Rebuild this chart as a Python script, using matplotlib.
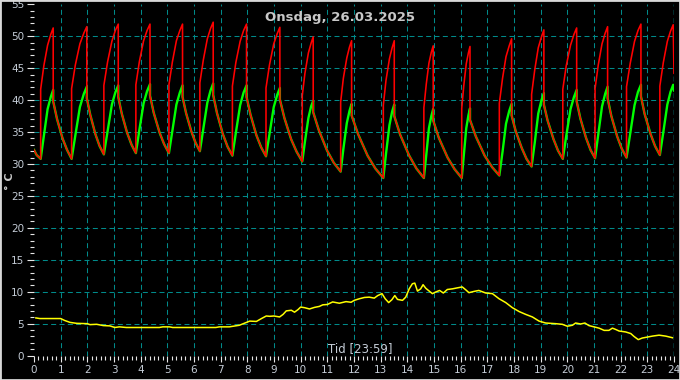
import matplotlib
matplotlib.use("Agg")
import matplotlib.pyplot as plt
from matplotlib.ticker import MultipleLocator, FixedLocator
from matplotlib.patches import Rectangle

# ---------------- data ----------------
start_t = [0.00, 0.10]
start_v = [32.2, 31.4]

trough_t = [0.25, 1.41, 2.62, 3.82, 5.06, 6.22, 7.44, 8.70, 10.06, 11.50,
            13.10, 14.62, 16.04, 17.45, 18.66, 19.83, 21.04, 22.22, 23.47]
trough_v = [30.8, 30.8, 31.5, 31.7, 31.7, 32.0, 31.3, 31.2, 30.4, 28.8,
            27.8, 27.8, 27.8, 28.2, 29.6, 30.8, 30.9, 31.0, 31.4]
peak_t = [0.72, 1.98, 3.16, 4.35, 5.57, 6.72, 7.97, 9.22, 10.47, 11.91,
          13.51, 14.97, 16.35, 17.91, 19.12, 20.35, 21.51, 22.76, 23.97]
red_peak = [51.3, 51.5, 51.9, 51.9, 51.9, 52.2, 51.9, 51.4, 49.9, 49.3,
            49.3, 48.5, 48.4, 49.6, 51.0, 51.3, 51.5, 51.9, 51.8]
green_peak = [41.6, 42.1, 42.3, 42.5, 42.3, 42.6, 42.3, 41.9, 39.9, 39.4,
              39.3, 38.6, 38.7, 39.4, 41.1, 41.6, 42.1, 42.4, 42.4]
red_jump = [41.7, 41.8, 42.3, 42.4, 42.4, 42.7, 42.2, 41.9, 40.7, 39.7,
            39.2, 38.8, 38.7, 39.5, 40.9, 41.7, 41.8, 42.1, 42.2]

rise_t = [
    (0.37, 0.51, 0.63), (1.55, 1.72, 1.87), (2.76, 2.92, 3.05),
    (3.95, 4.11, 4.24), (5.19, 5.34, 5.47), (6.35, 6.50, 6.62),
    (7.57, 7.73, 7.86), (8.83, 8.99, 9.12), (10.16, 10.29, 10.39),
    (11.60, 11.73, 11.83), (13.20, 13.33, 13.43), (14.71, 14.81, 14.90),
    (16.12, 16.21, 16.29), (17.57, 17.70, 17.82), (18.78, 18.91, 19.03),
    (19.96, 20.12, 20.25), (21.16, 21.30, 21.42), (22.36, 22.52, 22.65),
    (23.60, 23.75, 23.87),
]
red_rise = [
    (45.4, 48.6, 50.3), (45.5, 48.8, 50.5), (46.0, 49.2, 50.9),
    (46.0, 49.3, 50.9), (46.0, 49.3, 50.9), (46.3, 49.6, 51.2),
    (45.9, 49.2, 50.9), (45.5, 48.8, 50.4), (44.2, 47.4, 48.9),
    (43.4, 46.6, 48.3), (43.1, 46.5, 48.2), (42.5, 45.8, 47.5),
    (42.4, 45.7, 47.4), (43.4, 46.8, 48.5), (44.8, 48.2, 49.9),
    (45.4, 48.6, 50.3), (45.5, 48.8, 50.5), (45.8, 49.2, 50.9),
    (45.9, 49.2, 50.8),
]
green_rise = [
    (34.4, 38.6, 40.5), (34.5, 38.9, 41.0), (35.1, 39.3, 41.2),
    (35.3, 39.5, 41.4), (35.2, 39.3, 41.2), (35.5, 39.6, 41.5),
    (34.9, 39.2, 41.2), (34.7, 38.9, 40.8), (33.5, 37.2, 39.0),
    (32.3, 36.4, 38.3), (31.6, 36.1, 38.2), (31.4, 35.6, 37.5),
    (31.4, 35.6, 37.6), (31.9, 36.3, 38.3), (33.4, 37.9, 40.0),
    (34.4, 38.6, 40.5), (34.6, 39.0, 41.0), (34.8, 39.2, 41.3),
    (35.0, 39.3, 41.3),
]
drop_v = [39.8, 40.3, 40.5, 40.7, 40.5, 40.8, 40.5, 40.1, 38.1, 37.6,
          37.5, 36.8, 36.9, 37.6, 39.3, 39.8, 40.3, 40.6]
fall_t = [
    (0.86, 1.07, 1.24), (2.11, 2.30, 2.46), (3.29, 3.49, 3.66),
    (4.49, 4.71, 4.88), (5.70, 5.90, 6.06), (6.86, 7.08, 7.26),
    (8.12, 8.34, 8.52), (9.39, 9.64, 9.85), (10.68, 10.99, 11.24),
    (12.15, 12.51, 12.80), (13.73, 14.07, 14.34), (15.18, 15.51, 15.77),
    (16.57, 16.90, 17.18), (18.06, 18.29, 18.47), (19.26, 19.48, 19.65),
    (20.49, 20.70, 20.87), (21.65, 21.87, 22.04), (22.90, 23.12, 23.29),
]
fall_v = [
    (37.1, 34.0, 32.2), (37.7, 34.7, 32.8), (37.9, 34.9, 33.0),
    (38.0, 34.9, 33.1), (38.0, 35.1, 33.3), (38.0, 34.7, 32.7),
    (37.7, 34.5, 32.6), (37.2, 33.9, 31.9), (35.3, 32.1, 30.2),
    (34.7, 31.3, 29.3), (34.6, 31.3, 29.3), (34.1, 31.0, 29.2),
    (34.3, 31.3, 29.5), (35.2, 32.5, 30.8), (36.8, 33.9, 32.1),
    (37.1, 34.1, 32.2), (37.5, 34.3, 32.4), (37.8, 34.7, 32.8),
]
end_t = 24.0
red_end = 44.2
green_end = 41.5

out_t = [0.07, 0.22, 1.0, 1.15, 1.35, 1.6, 2.0, 2.1, 2.35, 2.6, 2.85, 3.03,
         3.2, 3.46, 4.0, 4.7, 4.83, 5.08, 5.2, 6.0, 6.82, 6.95, 7.32, 7.7,
         8.0, 8.09, 8.34, 8.53, 8.71, 8.84, 9.0, 9.21, 9.34, 9.46, 9.65,
         9.77, 9.9, 10.0, 10.15, 10.33, 10.52, 10.7, 10.83, 11.0, 11.2,
         11.45, 11.7, 11.89, 12.01, 12.2, 12.39, 12.57, 12.76, 12.89, 13.05,
         13.17, 13.3, 13.42, 13.53, 13.63, 13.82, 13.94, 14.07, 14.19, 14.28,
         14.38, 14.5, 14.59, 14.69, 14.82, 14.94, 15.06, 15.21, 15.35, 15.5,
         15.69, 15.87, 16.06, 16.19, 16.31, 16.5, 16.68, 16.94, 17.19, 17.44,
         17.69, 17.94, 18.19, 18.44, 18.69, 18.94, 19.19, 19.56, 19.81, 20.0,
         20.19, 20.31, 20.5, 20.66, 20.81, 21.0, 21.19, 21.38, 21.56, 21.69,
         21.81, 21.94, 22.19, 22.38, 22.5, 22.66, 22.81, 23.0, 23.19, 23.44,
         23.69, 23.94]
out_v = [5.9, 5.8, 5.8, 5.5, 5.2, 5.05, 5.0, 4.85, 4.9, 4.7, 4.65, 4.4,
         4.5, 4.4, 4.4, 4.4, 4.5, 4.5, 4.4, 4.4, 4.4, 4.5, 4.5, 4.75,
         5.25, 5.4, 5.35, 5.8, 6.2, 6.15, 6.2, 6.05, 6.45, 7.0, 7.1,
         6.8, 7.2, 7.6, 7.5, 7.3, 7.55, 7.7, 7.95, 8.0, 8.4,
         8.2, 8.45, 8.35, 8.65, 8.9, 9.1, 9.15, 9.0, 9.4, 9.7,
         8.9, 8.3, 8.75, 9.4, 8.8, 8.65, 9.15, 10.45, 11.25, 11.35,
         10.1, 10.45, 11.1, 10.55, 10.1, 9.7, 9.95, 10.2, 9.8, 10.35,
         10.45, 10.6, 10.75, 10.3, 9.85, 10.05, 10.2, 9.8, 9.7, 8.9,
         8.3, 7.5, 6.9, 6.45, 6.05, 5.4, 5.1, 5.0, 4.9, 4.6,
         4.75, 5.1, 4.95, 5.1, 4.7, 4.5, 4.3, 3.95, 3.95, 4.3,
         4.1, 3.85, 3.7, 3.45, 3.0, 2.5, 2.75, 2.9, 3.05, 3.2,
         3.05, 2.8]

title_text = "Onsdag, 26.03.2025"
xlabel_text = "Tid [23:59]"
ylabel_text = "° C"
hours = list(range(0, 25))
temps = list(range(0, 56, 5))

# ---------------- build series ----------------
red_x, red_y = list(start_t), list(start_v)
grn_x, grn_y = list(start_t), list(start_v)
for i in range(len(trough_t)):
    red_x += [trough_t[i], trough_t[i]] + list(rise_t[i]) + [peak_t[i]]
    red_y += [trough_v[i], red_jump[i]] + list(red_rise[i]) + [red_peak[i]]
    grn_x += [trough_t[i]] + list(rise_t[i]) + [peak_t[i]]
    grn_y += [trough_v[i]] + list(green_rise[i]) + [green_peak[i]]
    if i < len(drop_v):
        for xs, ys in ((red_x, red_y), (grn_x, grn_y)):
            xs += [peak_t[i]] + list(fall_t[i])
            ys += [drop_v[i]] + list(fall_v[i])
red_x.append(end_t); red_y.append(red_end)
grn_x.append(end_t); grn_y.append(green_end)

# ---------------- figure ----------------
plt.rcParams['font.family'] = ['DejaVu Sans']
plt.rcParams['lines.scale_dashes'] = False
W, H = 680, 380
fig = plt.figure(figsize=(W / 100, H / 100), dpi=100, facecolor='black')
ax = fig.add_axes([34 / W, (H - 355.6) / H, 640 / W, (355.6 - 4.3) / H])
ax.set_facecolor('black')
ax.set_xlim(0, 24)
ax.set_ylim(0, 55)
for s in ax.spines.values():
    s.set_visible(False)

grid_col = '#008A8A'
dash = (0, (3.6, 2.4))
for h in hours[1:-1]:
    ax.axvline(h, color=grid_col, lw=0.75, ls=dash, zorder=1)
ax.axvline(hours[-1], color='#00E0E0', lw=1.0, ls=dash, zorder=1)
for t in temps[1:-1]:
    ax.axhline(t, color=grid_col, lw=0.75, ls=dash, zorder=1)

ax.plot(grn_x, grn_y, color='#00FF00', lw=1.7, zorder=3)
ax.plot(red_x, red_y, color='#FF0000', lw=1.15, zorder=4)
ax.plot(out_t, out_v, color='#FFFF00', lw=1.1, zorder=5)

lab_col = '#C4CCD6'
tick_col = '#E6E6E6'
ax.xaxis.set_major_locator(FixedLocator(hours))
ax.xaxis.set_minor_locator(MultipleLocator(1 / 6))
ax.yaxis.set_major_locator(FixedLocator(temps))
ax.yaxis.set_minor_locator(MultipleLocator(1))
ax.tick_params(axis='both', which='both', colors=tick_col, labelcolor=lab_col,
               labelsize=7.5, width=0.8)
ax.tick_params(axis='x', which='major', length=4.3, pad=2.5)
ax.tick_params(axis='x', which='minor', length=3.2)
ax.tick_params(axis='y', which='major', length=5.2, pad=1.8)
ax.tick_params(axis='y', which='minor', length=2.8)

fig.text(340 / W, 1 - 17.5 / H, title_text, ha='center', va='center',
         color='#C8C8C8', fontsize=9.5, fontweight='bold')
fig.text(360 / W, 1 - 348.5 / H, xlabel_text, ha='center', va='center',
         color=lab_col, fontsize=8.5)
fig.text(10 / W, 1 - 181 / H, ylabel_text, ha='center', va='center',
         color='#C8C8C8', fontsize=8, fontweight='bold', rotation=90)

fig.patches.append(Rectangle((0, 0), 1, 1, transform=fig.transFigure,
                             fill=False, edgecolor='#D8D8D8', lw=2.0))

fig.savefig('out.png', dpi=100, facecolor='black')
